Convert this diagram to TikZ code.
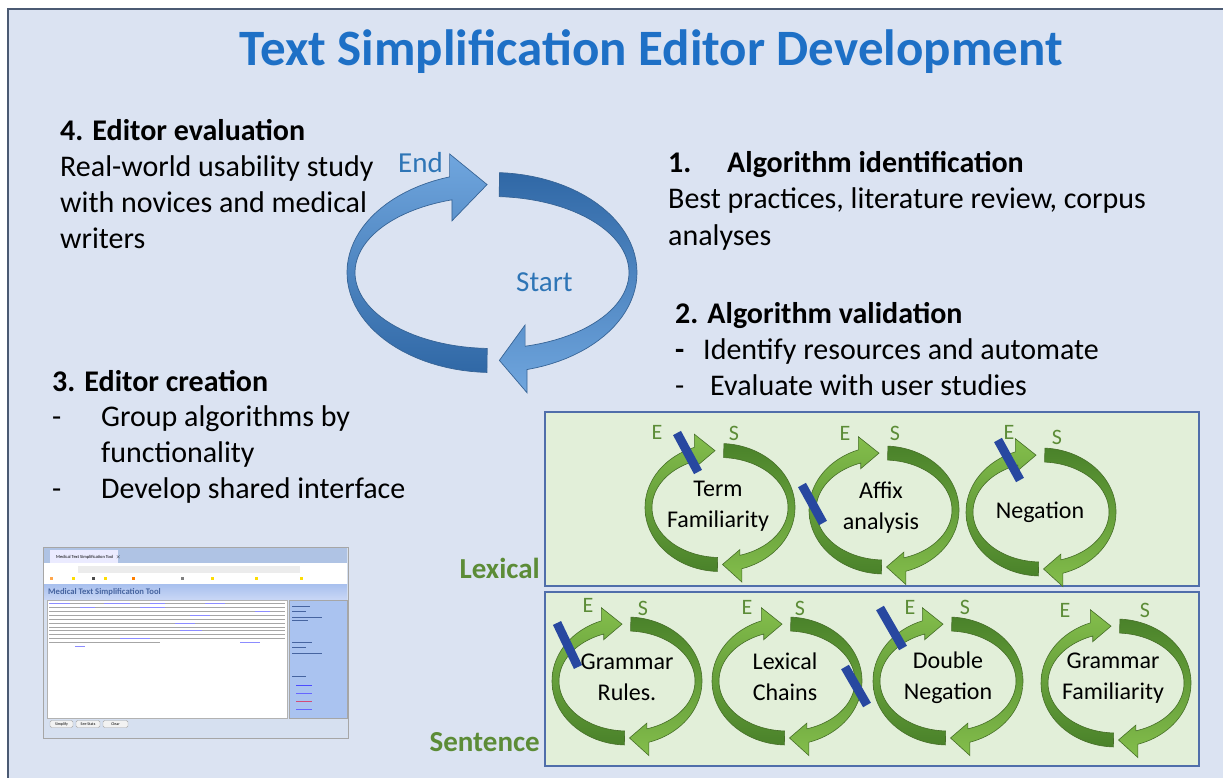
\documentclass[tikz,border=0pt]{standalone}
\usepackage{fontspec}
\setmainfont{Carlito}
\definecolor{bgblue}{RGB}{219,227,242}
\definecolor{frameline}{RGB}{75,90,115}
\definecolor{titleblue}{RGB}{30,112,198}
\definecolor{accblue}{RGB}{46,117,182}
\definecolor{panelfill}{RGB}{226,239,217}
\definecolor{panelline}{RGB}{80,110,170}
\definecolor{glight}{RGB}{132,190,76}
\definecolor{gdark}{RGB}{74,130,42}
\definecolor{gline}{RGB}{70,110,40}
\definecolor{glabel}{RGB}{92,140,55}
\definecolor{barblue}{RGB}{40,72,160}
\definecolor{blight}{RGB}{112,166,222}
\definecolor{bdark}{RGB}{48,104,166}
\definecolor{bline}{RGB}{55,100,150}
\definecolor{shotbg}{RGB}{214,224,240}
\definecolor{shotside}{RGB}{170,195,240}
\definecolor{shothead}{RGB}{70,100,160}
\definecolor{shottab}{RGB}{175,195,228}
\def\cycA{75}\def\cycB{64}\def\cycAi{68}\def\cycBi{50}\def\cycEo{14}\def\cycEi{6}
% #1 style, #2 cx, #3 cy, #4 start angle, #5 head angle, #6 tip angle
\newcommand\bandarrow[6]{%
 \path[#1] plot[domain=#4:#5,samples=50] ({#2+\cycA*cos(\x)},{#3+\cycB*sin(\x)})
 -- ({#2+\cycA*cos(#5)},{#3+(\cycB+\cycEo)*sin(#5)})
 -- ({#2+(\cycA+\cycAi)/2*cos(#6)},{#3+(\cycB+\cycBi)/2*sin(#6)})
 -- ({#2+\cycAi*cos(#5)},{#3+(\cycBi-\cycEi)*sin(#5)})
 -- plot[domain=#5:#4,samples=50] ({#2+\cycAi*cos(\x)},{#3+\cycBi*sin(\x)}) -- cycle;}
\newcommand\smallcycle[2]{%
 \bandarrow{garrA}{#1}{#2}{92}{250}{266}%
 \bandarrow{garrB}{#1}{#2}{273}{433}{448}}
\begin{document}
\begin{tikzpicture}[x=1pt,y=-1pt,
  body/.style={font=\fontsize{30}{36}\selectfont, inner sep=0pt, anchor=base west},
  head/.style={body, font=\fontsize{30}{36}\selectfont\bfseries},
  cyclab/.style={font=\fontsize{24}{31}\selectfont, align=center, inner sep=0pt},
  eslab/.style={font=\fontsize{22}{24}\selectfont, text=glabel, inner sep=0pt},
  rowlab/.style={font=\fontsize{29}{34}\selectfont\bfseries, text=glabel, inner sep=0pt, anchor=base east},
  panel/.style={fill=panelfill, draw=panelline, line width=1.6pt},
  blockbar/.style={draw=barblue, line width=9pt},
  garrA/.style={top color=glight, bottom color=gdark, draw=gline, line width=0.6pt},
  garrB/.style={top color=gdark, bottom color=glight, draw=gline, line width=0.6pt},
  barrA/.style={top color=blight, bottom color=bdark, draw=bline, line width=0.7pt},
  barrB/.style={top color=bdark, bottom color=blight, draw=bline, line width=0.7pt},
  tiny/.style={font=\fontsize{4.5}{5}\selectfont, inner sep=0pt}]
\useasboundingbox (0,0) rectangle (1223,778);
\fill[white] (0,0) rectangle (1223,778);
\path[fill=bgblue, draw=frameline, line width=2pt] (8,9) rectangle (1235,790);

% title
\node[font=\fontsize{51}{60}\selectfont\bfseries, text=titleblue, anchor=base, inner sep=0pt] (title) at (651,66) {Text Simplification Editor Development};

% step 4
\node[head] (h4) at (60,141) {4. Editor evaluation};
\node[body] (t4a) at (60,177) {Real-world usability study};
\node[body] (t4b) at (60,213) {with novices and medical};
\node[body] (t4c) at (60,248) {writers};

% step 1
\node[head] (h1n) at (668,173) {1.};
\node[head] (h1) at (727,173) {Algorithm identification};
\node[body] (t1a) at (668,209) {Best practices, literature review, corpus};
\node[body] (t1b) at (668,245) {analyses};

% step 2
\node[head] (h2) at (675,323) {2. Algorithm validation};
\node[head] (d2a) at (675,359) {-};
\node[body] (t2a) at (703,359) {Identify resources and automate};
\node[body] (d2b) at (675,395) {-};
\node[body] (t2b) at (710,395) {Evaluate with user studies};

% step 3
\node[head] (h3) at (52,391) {3. Editor creation};
\node[body] (d3a) at (52,426) {-};
\node[body] (t3a) at (101,426) {Group algorithms by};
\node[body] (t3b) at (101,462) {functionality};
\node[body] (d3b) at (52,498) {-};
\node[body] (t3c) at (101,498) {Develop shared interface};

% big cycle
\begin{scope}
\def\cycA{145}\def\cycB{100}\def\cycAi{137}\def\cycBi{76}\def\cycEo{24}\def\cycEi{22}
\bandarrow{barrA}{492}{272.5}{92}{253}{268}
\bandarrow{barrB}{492}{272.5}{273}{436}{447}
\end{scope}
\node[body, font=\fontsize{29}{34}\selectfont, text=accblue] (endlab) at (398,173) {End};
\node[body, font=\fontsize{29}{34}\selectfont, text=accblue] (startlab) at (516,291) {Start};

% panels
\path[panel] (545,412) rectangle (1199,586);
\path[panel] (545,592) rectangle (1199,766);
\node[rowlab] (lexlab) at (540,578) {Lexical};
\node[rowlab] (senlab) at (540,751) {Sentence};

% lexical row
\smallcycle{720}{507.5}
\smallcycle{884}{510}
\smallcycle{1041}{512}
\draw[blockbar] (677,433) -- (698,472);
\draw[blockbar] (802,485) -- (823,523);
\draw[blockbar] (998,440) -- (1020,480);
\node[cyclab] (c1) at (718,506) {Term\\Familiarity};
\node[cyclab] (c2) at (881,508) {Affix\\analysis};
\node[cyclab] (c3) at (1040,512) {Negation};
\node[eslab] (e1) at (657,432) {E};
\node[eslab] (s1) at (734,433) {S};
\node[eslab] (e2) at (845,433) {E};
\node[eslab] (s2) at (895,433) {S};
\node[eslab] (e3) at (1009,432) {E};
\node[eslab] (s3) at (1057,437) {S};

% sentence row
\smallcycle{627}{681}
\smallcycle{787}{681}
\smallcycle{948}{681}
\smallcycle{1116}{683}
\draw[blockbar] (557,623) -- (578,667);
\draw[blockbar] (845,667) -- (867,705);
\draw[blockbar] (880,608) -- (903,648);
\node[cyclab] (c4) at (627,677) {Grammar\\Rules.};
\node[cyclab] (c5) at (785,677) {Lexical\\Chains};
\node[cyclab] (c6) at (948,678) {Double\\Negation};
\node[cyclab] (c7) at (1113,678) {Grammar\\Familiarity};
\node[eslab] (e4) at (588,605) {E};
\node[eslab] (s4) at (643,608) {S};
\node[eslab] (e5) at (747,607) {E};
\node[eslab] (s5) at (800,608) {S};
\node[eslab] (e6) at (910,607) {E};
\node[eslab] (s6) at (965,607) {S};
\node[eslab] (e7) at (1065,610) {E};
\node[eslab] (s7) at (1145,610) {S};

% screenshot of the tool
\path[fill=shotbg, draw=gray!70, line width=0.8pt] (43,547) rectangle (348,738);
\fill[shottab] (44,548) rectangle (347,563);
\fill[white!92!blue] (50,550) rectangle (118,563);
\node[tiny, anchor=west] (tabtxt) at (56,557) {Medical Text Simplification Tool \ $\times$};
\fill[white] (44,563) rectangle (347,584);
\fill[gray!15] (78,566) rectangle (300,573);
\foreach \xx/\cc in {50/orange!70, 72/yellow!80!orange, 92/black!70, 104/yellow!80!orange, 132/orange, 181/gray, 211/yellow!80!orange, 255/yellow!80!orange, 300/yellow!80!orange}
  \fill[\cc] (\xx,577) rectangle ++(3,3);
\shade[top color={rgb,255:red,168;green,192;blue,238}, bottom color={rgb,255:red,200;green,214;blue,245}] (44,584) rectangle (347,599);
\node[font=\fontsize{8.6}{10}\selectfont\bfseries, text=shothead, anchor=west, inner sep=0pt] (shottitle) at (48,592) {Medical Text Simplification Tool};
\path[fill=white, draw=gray!60, line width=0.6pt] (47,600) rectangle (287,718);
\foreach \i in {0,...,9}
  \draw[black!35, line width=0.8pt] (49,{603.5+\i*3.9}) -- (285,{603.5+\i*3.9});
\draw[black!35, line width=0.8pt] (49,{603.5+10*3.9}) -- (160,{603.5+10*3.9});
\foreach \xa/\xb/\yy in {49/70/603.5, 104/130/603.5, 150/165/603.5, 205/225/603.5, 80/95/607.4, 140/165/607.4, 255/270/611.3, 190/210/615.2, 175/195/623, 180/202/630.8, 120/150/638.6, 240/260/642.5, 75/85/646.4}
  \draw[blue!45, line width=0.8pt] (\xa,\yy) -- (\xb,\yy);
\path[fill=shotside, draw=gray!70, line width=0.6pt] (289,600) rectangle (347,718);
\foreach \yy/\ww in {606/18, 611/14, 617/30, 620/16, 642/20, 647/14, 653/30, 676/14}
  \draw[shothead, line width=0.9pt] (292,\yy) -- ++(\ww,0);
\foreach \yy/\cc in {685/blue!70, 693/blue!60, 701/purple!70, 709/blue!60}
  \draw[\cc, line width=0.9pt] (296,\yy) -- ++(16,0);
\foreach \xa/\xb/\lab [count=\k] in {50/73/Simplify, 76/100/See Stats, 103/128/Clear}
  \node[tiny, draw=gray!70, fill=gray!10, rounded corners=1.5pt, minimum width={\xb-\xa}, minimum height=7, font=\fontsize{4}{5}\selectfont] (btn\k) at ({(\xa+\xb)/2},724) {\lab};
\end{tikzpicture}
\end{document}
